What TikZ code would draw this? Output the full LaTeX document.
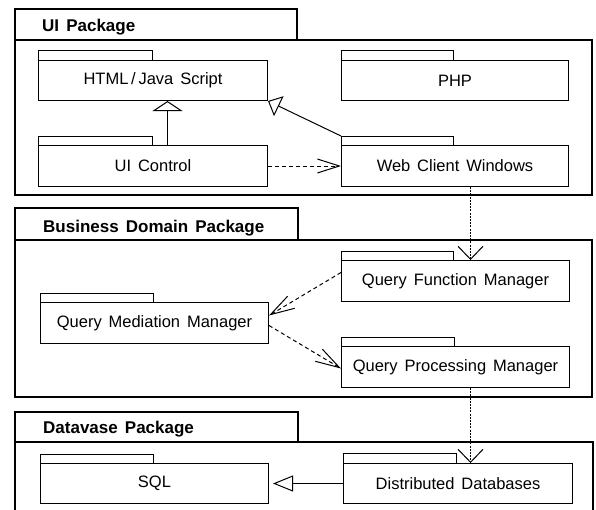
\documentclass[tikz,border=0pt]{standalone}
\usepackage{fontspec}
\setmainfont[WordSpace=1.5]{Liberation Sans}
\usetikzlibrary{arrows.meta}
\begin{document}
\begin{tikzpicture}[x=1pt,y=-1pt,
  frame/.style={line width=1.9pt},
  box/.style={draw,line width=1.0pt,rectangle,inner sep=0pt,anchor=north west,
    font=\fontsize{16.5}{20}\selectfont},
  ttl/.style={anchor=base west,inner sep=0pt,font=\fontsize{17}{20}\selectfont\bfseries},
  tab/.style={line width=0.7pt},
  conn/.style={line width=1.0pt},
  dep/.style={conn,dash pattern=on 4pt off 3pt},
  trace/.style={conn,dash pattern=on 2pt off 1.2pt},
]
\useasboundingbox (0,0) rectangle (596,509);
% ---------- UI Package
\draw[frame] (15,9) rectangle (297,40);
\draw[frame] (15,40) rectangle (592,195);
\node[ttl] (tui) at (42,31) {UI Package};
\node[box,minimum width=229pt,minimum height=40pt] (html) at (38,60) {HTML\,/\,Java Script};
\draw[tab] (html.north west) rectangle ++(114,-10);
\node[box,minimum width=227pt,minimum height=40pt] (php) at (341,60) {PHP};
\draw[tab] (php.north west) rectangle ++(112,-10);
\node[box,minimum width=229pt,minimum height=41pt] (uic) at (38,145) {UI Control};
\draw[tab] (uic.north west) rectangle ++(114,-9);
\node[box,minimum width=227pt,minimum height=41pt] (wcw) at (341,145) {Web Client Windows};
\draw[tab] (wcw.north west) rectangle ++(112,-9);
% ---------- Business Domain Package
\draw[frame] (15,208) rectangle (298,240);
\draw[frame] (15,240) rectangle (592,397);
\node[ttl] (tbd) at (43,232) {Business Domain Package};
\node[box,minimum width=228pt,minimum height=41pt] (qfm) at (341,260) {Query Function Manager};
\draw[tab] (qfm.north west) rectangle ++(112,-9);
\node[box,minimum width=228pt,minimum height=41pt] (qmm) at (40,302) {Query Mediation Manager};
\draw[tab] (qmm.north west) rectangle ++(113,-9);
\node[box,minimum width=228pt,minimum height=41pt] (qpm) at (341,346) {Query Processing Manager};
\draw[tab] (qpm.north west) rectangle ++(113,-9);
% ---------- Datavase Package
\draw[frame] (15,412) rectangle (298,442);
\draw[frame] (15,512) -- (15,442) -- (593,442) -- (593,512);
\node[ttl] (tdb) at (43,433) {Datavase Package};
\node[box,minimum width=228pt,minimum height=40pt] (sql) at (40,463) {SQL};
\draw[tab] (sql.north west) rectangle ++(113,-9);
\node[box,minimum width=229pt,minimum height=40pt] (dd) at (343,463) {Distributed Databases};
\draw[tab] (dd.north west) rectangle ++(113,-10);
% ---------- connectors
\draw[conn,-{Triangle[open,length=10pt,width=30pt]}] ([xshift=14.5pt]uic.north) -- ([xshift=14.5pt]html.south);
\draw[conn,-{Triangle[open,length=12pt,width=22pt]}] ([yshift=9pt]wcw.north west) -- (html.south east);
\draw[dep,-{Straight Barb[length=22pt,width=14pt]}] (uic.east) -- (wcw.west);
\draw[trace,-{Straight Barb[length=13pt,width=25pt]}] ([xshift=15.5pt]wcw.south) -- ([xshift=15pt]qfm.north);
\draw[dep,-{Straight Barb[length=24pt,width=14pt]}] ([yshift=8.5pt]qfm.west) -- ([yshift=7.5pt]qmm.east);
\draw[dep,-{Straight Barb[length=24pt,width=14pt]}] ([yshift=-2.5pt]qmm.east) -- ([yshift=-1.5pt]qpm.west);
\draw[trace,-{Straight Barb[length=13pt,width=25pt]}] ([xshift=15pt]qpm.south) -- ([xshift=12.5pt]dd.north);
\draw[conn,-{Triangle[open,length=20pt,width=16pt]},shorten >=4pt] (dd.west) -- (sql.east);
\end{tikzpicture}
\end{document}
